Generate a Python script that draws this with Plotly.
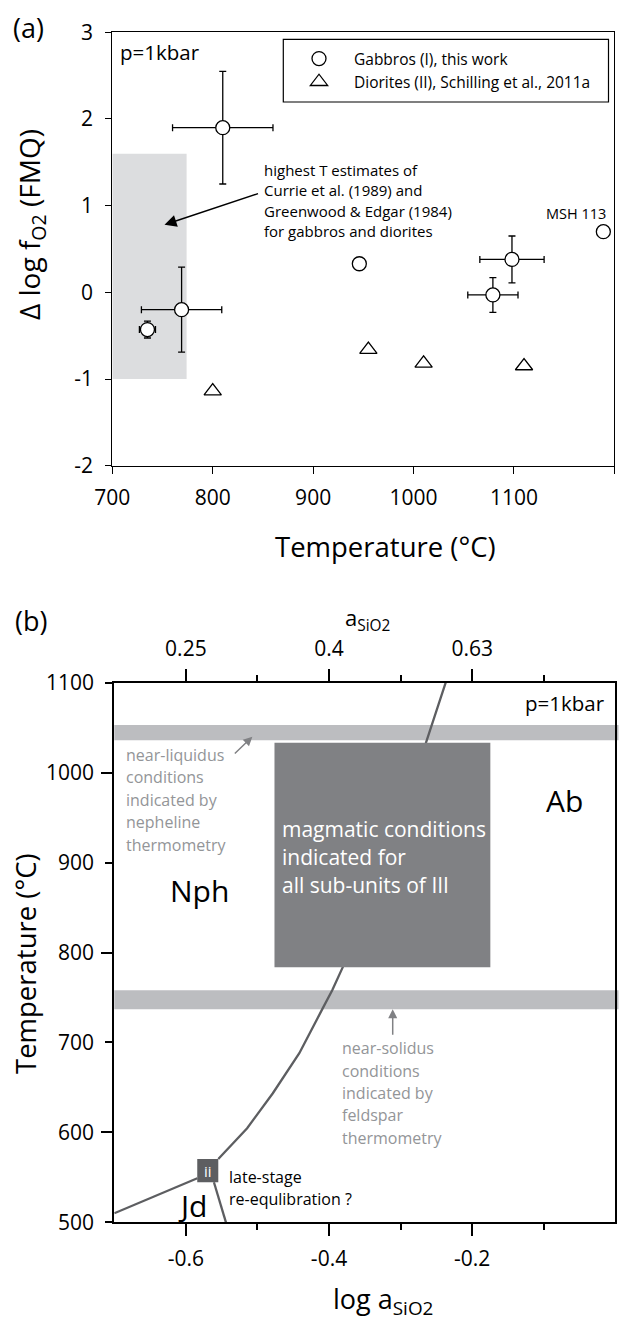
import plotly.graph_objects as go

FONT = "Open Sans"

# ---------------- Panel (a) data ----------------
gabbro_T = [810, 769, 735, 946, 1098, 1079, 1189]
gabbro_dfo2 = [1.90, -0.20, -0.43, 0.33, 0.38, -0.03, 0.70]
gabbro_T_err = [50, 40, 8, 0, 32, 25, 0]
gabbro_f_err = [0.65, 0.49, 0.097, 0, 0.27, 0.20, 0]

diorite_T = [800, 955, 1010, 1110]
diorite_dfo2 = [-1.14, -0.66, -0.82, -0.85]

lit_box_T = [700, 774]
lit_box_f = [-1.0, 1.6]

a_xticks = [700, 800, 900, 1000, 1100, 1200]
a_yticks = [-2, -1, 0, 1, 2, 3]

# ---------------- Panel (b) data ----------------
nph_ab_x = [-0.237, -0.2646, -0.3806, -0.3955, -0.4094, -0.4415, -0.4785, -0.5144, -0.5547]
nph_ab_T = [1100, 1033, 784, 758, 737, 688, 643.5, 604.6, 570.4]
jd_nph_x = [-0.70, -0.584]
jd_nph_T = [510, 549]
jd_ab_x = [-0.5608, -0.5524, -0.544]
jd_ab_T = [544.5, 521, 500]

liquidus_band_T = [1036, 1053]
solidus_band_T = [737, 758]
magmatic_x = [-0.4762, -0.1746]
magmatic_T = [783.6, 1033.3]
late_box_x = [-0.5841, -0.5547]
late_box_T = [544.5, 570.4]

b_xticks_major = [-0.6, -0.4, -0.2]
b_xlabels = ["-0.6", "-0.4", "-0.2"]
b_xticks_minor = [-0.5, -0.3, -0.1]
top_labels = ["0.25", "0.4", "0.63"]
b_yticks = [500, 600, 700, 800, 900, 1000, 1100]
b_yticks_long = [600, 800, 1000]

W, H = 621, 1320
def px(x):
    return x / W
def py(y):
    return 1 - y / H

fig = go.Figure()

# ---- panel (a) traces ----
fig.add_trace(go.Scatter(
    x=gabbro_T, y=gabbro_dfo2, mode="markers", name="Gabbros (I), this work",
    marker=dict(symbol="circle", size=14, color="white", line=dict(color="black", width=1.3)),
    error_x=dict(type="data", array=gabbro_T_err, color="black", thickness=1.3, width=3.5),
    error_y=dict(type="data", array=gabbro_f_err, color="black", thickness=1.3, width=3.5),
    xaxis="x", yaxis="y"))
fig.add_trace(go.Scatter(
    x=diorite_T, y=diorite_dfo2, mode="markers", name="Diorites (II), Schilling et al., 2011a",
    marker=dict(symbol="triangle-up", size=15, color="white", line=dict(color="black", width=1.3)),
    xaxis="x", yaxis="y"))

# ---- panel (b) traces ----
line_col = "#5d5e61"
for xs, ts in [(nph_ab_x, nph_ab_T), (jd_nph_x, jd_nph_T), (jd_ab_x, jd_ab_T)]:
    fig.add_trace(go.Scatter(x=xs, y=ts, mode="lines", showlegend=False,
                             line=dict(color=line_col, width=2.3),
                             xaxis="x2", yaxis="y2", hoverinfo="skip"))
# invisible trace so the overlay axes (top axis, long y ticks) are drawn
fig.add_trace(go.Scatter(x=[nph_ab_x[0]], y=[nph_ab_T[0]], mode="markers", showlegend=False,
                         marker=dict(opacity=0), xaxis="x3", yaxis="y3", hoverinfo="skip"))

shapes = []
shapes.append(dict(type="rect", xref="x", yref="y", x0=lit_box_T[0], x1=lit_box_T[1],
                   y0=lit_box_f[0], y1=lit_box_f[1], fillcolor="#dcdddf", line=dict(width=0), layer="below"))
shapes.append(dict(type="rect", xref="paper", yref="paper", x0=px(283.3), x1=px(608.5),
                   y0=py(102), y1=py(39.3), line=dict(color="black", width=1.2), fillcolor="rgba(0,0,0,0)"))
for band in (liquidus_band_T, solidus_band_T):
    shapes.append(dict(type="rect", xref="paper", yref="y2", x0=px(114.3), x1=px(618.5),
                       y0=band[0], y1=band[1], fillcolor="#bcbdc0", line=dict(width=0), layer="below"))
shapes.append(dict(type="rect", xref="x2", yref="y2", x0=magmatic_x[0], x1=magmatic_x[1],
                   y0=magmatic_T[0], y1=magmatic_T[1], fillcolor="#808184", line=dict(width=0), layer="above"))
shapes.append(dict(type="rect", xref="x2", yref="y2", x0=late_box_x[0], x1=late_box_x[1],
                   y0=late_box_T[0], y1=late_box_T[1], fillcolor="#5d5e61", line=dict(width=0), layer="above"))

ann = []
def A(**k):
    d = dict(showarrow=False, xanchor="center", yanchor="middle",
             font=dict(family=FONT, size=16, color="black"))
    f = k.pop("font", None)
    if f:
        d["font"].update(f)
    d.update(k)
    ann.append(d)

A(text="(a)", xref="paper", yref="paper", x=px(28), y=py(27), font=dict(size=27))
A(text="(b)", xref="paper", yref="paper", x=px(31), y=py(620), font=dict(size=27))

A(text="Δ log f<sub>O2</sub> (FMQ)", xref="paper", yref="paper", x=px(31), y=py(225),
  textangle=-90, font=dict(size=28))
A(text="Temperature (°C)", xref="paper", yref="paper", x=px(385), y=py(547), font=dict(size=27.5))
A(text="Temperature (°C)", xref="paper", yref="paper", x=px(25), y=py(964),
  textangle=-90, font=dict(size=27.5))
A(text="log a<sub>SiO2</sub>", xref="paper", yref="paper", x=px(383), y=py(1300), font=dict(size=27))
A(text="a<sub>SiO2</sub>", xref="paper", yref="paper", x=px(367), y=py(619), font=dict(size=22))

A(text="p=1kbar", xref="x", yref="y", x=706, y=2.776, xanchor="left", font=dict(size=20.5))
A(text="MSH 113", xref="x", yref="y", x=1162, y=0.91, font=dict(size=14.5))
hl_lines = ["highest T estimates of", "Currie et al. (1989) and",
            "Greenwood &amp; Edgar (1984)", "for gabbros and diorites"]
for i, t in enumerate(hl_lines):
    A(text=t, xref="x", yref="y", x=849, y=1.41 - i * 0.235, xanchor="left", font=dict(size=15))
ann.append(dict(x=752, y=0.78, ax=846.6, ay=1.145, xref="x", yref="y", axref="x", ayref="y",
                text="", showarrow=True, arrowhead=2, arrowsize=1.6, arrowwidth=1.5, arrowcolor="black"))

gray = "#939598"
A(text="p=1kbar", xref="x2", yref="y2", x=-0.012, y=1077, xanchor="right", font=dict(size=20.5))
liq = ["near-liquidus", "conditions", "indicated by", "nepheline", "thermometry"]
for i, t in enumerate(liq):
    A(text=t, xref="x2", yref="y2", x=-0.686, y=1019.6 - i * 24.9, xanchor="left",
      font=dict(size=16, color=gray))
sol = ["near-solidus", "conditions", "indicated by", "feldspar", "thermometry"]
for i, t in enumerate(sol):
    A(text=t, xref="x2", yref="y2", x=-0.3845, y=693.5 - i * 24.9, xanchor="left",
      font=dict(size=16, color=gray))
mag = ["magmatic conditions", "indicated for", "all sub-units of III"]
for i, t in enumerate(mag):
    A(text=t, xref="x2", yref="y2", x=-0.469, y=936.9 - i * 31.0, xanchor="left",
      font=dict(size=21, color="white"))
A(text="Ab", xref="x2", yref="y2", x=-0.0707, y=969.5, font=dict(size=30))
A(text="Nph", xref="x2", yref="y2", x=-0.5806, y=869.4, font=dict(size=30))
A(text="Jd", xref="x2", yref="y2", x=-0.5908, y=519, font=dict(size=30))
A(text="ii", xref="x2", yref="y2", x=(late_box_x[0] + late_box_x[1]) / 2,
  y=(late_box_T[0] + late_box_T[1]) / 2, font=dict(size=15, color="white"))
A(text="late-stage", xref="x2", yref="y2", x=-0.543, y=550.7, xanchor="left", font=dict(size=16))
A(text="re-equlibration ?", xref="x2", yref="y2", x=-0.543, y=525.6, xanchor="left", font=dict(size=16))
ann.append(dict(x=-0.5071, y=1040, ax=-0.5337, ay=1019.6, xref="x2", yref="y2", axref="x2", ayref="y2",
                text="", showarrow=True, arrowhead=2, arrowsize=1.2, arrowwidth=1.5, arrowcolor="#808184"))
ann.append(dict(x=-0.311, y=737, ax=-0.311, ay=707, xref="x2", yref="y2", axref="x2", ayref="y2",
                text="", showarrow=True, arrowhead=2, arrowsize=1.2, arrowwidth=1.5, arrowcolor="#808184"))

tickfont = dict(family=FONT, size=21, color="black")
ax_common = dict(showgrid=False, zeroline=False, showline=True, linecolor="black", automargin=False,
                 ticks="outside", tickcolor="black", tickfont=tickfont)

fig.update_layout(
    width=W, height=H, margin=dict(l=0, r=0, t=0, b=0, pad=0, autoexpand=False),
    paper_bgcolor="white", plot_bgcolor="white",
    font=dict(family=FONT, color="black"),
    shapes=shapes, annotations=ann,
    showlegend=True,
    legend=dict(x=px(284), y=py(42), xanchor="left", yanchor="top",
                bgcolor="rgba(0,0,0,0)", borderwidth=0, itemwidth=60,
                font=dict(family=FONT, size=15.5, color="black"), tracegroupgap=0),
    xaxis=dict(domain=[px(112.3), px(614.4)], range=[700, 1200], anchor="y",
               tickmode="array", tickvals=a_xticks, ticktext=[str(v) for v in a_xticks],
               ticklen=7, linewidth=1.2, tickwidth=1.2, mirror=True, ticklabelstandoff=6, **ax_common),
    yaxis=dict(domain=[py(465.7), py(32.3)], range=[-2, 3], anchor="x",
               tickmode="array", tickvals=a_yticks, ticktext=[str(v) for v in a_yticks],
               ticklen=6, linewidth=1.2, tickwidth=1.2, mirror=True, ticklabelstandoff=8, **ax_common),
    xaxis2=dict(domain=[px(114.3), px(615.3)], range=[-0.7, 0.0], anchor="y2",
                tickmode="array", tickvals=b_xticks_major, ticktext=b_xlabels,
                ticklen=12, linewidth=2, tickwidth=2, mirror=True, ticklabelstandoff=4,
                minor=dict(tickmode="array", tickvals=b_xticks_minor, ticklen=6, tickwidth=2,
                           tickcolor="black", ticks="outside"), **ax_common),
    xaxis3=dict(range=[-0.7, 0.0], overlaying="x2", side="top", anchor="y2",
                tickmode="array", tickvals=b_xticks_major, ticktext=top_labels,
                ticklen=12, linewidth=2, tickwidth=2, ticklabelstandoff=4,
                minor=dict(tickmode="array", tickvals=b_xticks_minor, ticklen=6, tickwidth=2,
                           tickcolor="black", ticks="outside"), **ax_common),
    yaxis2=dict(domain=[py(1222.3), py(682.7)], range=[500, 1100], anchor="x2",
                tickmode="array", tickvals=b_yticks, ticktext=[str(v) for v in b_yticks],
                ticklen=7, linewidth=2, tickwidth=2, mirror=True, ticklabelstandoff=7, **ax_common),
    yaxis3=dict(range=[500, 1100], overlaying="y2", side="left", anchor="x2",
                showgrid=False, zeroline=False, showline=False, automargin=False,
                tickmode="array", tickvals=b_yticks_long, showticklabels=False,
                ticks="outside", ticklen=12, tickwidth=2, tickcolor="black"),
)

fig.write_html("out.html", config={"displayModeBar": False},
               post_script="document.body.style.margin='0';")
